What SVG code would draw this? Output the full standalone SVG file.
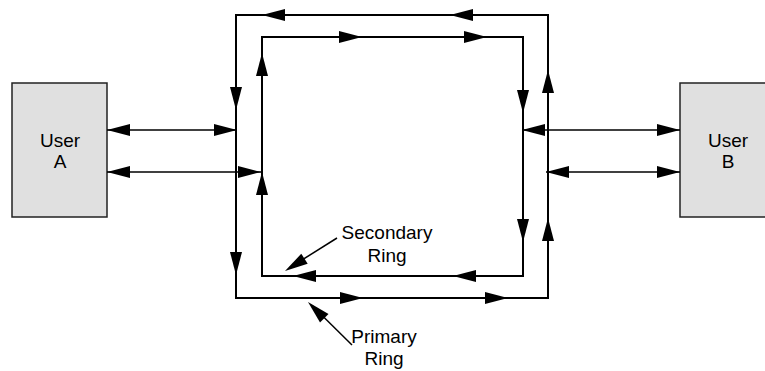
<svg xmlns="http://www.w3.org/2000/svg" xmlns:xlink="http://www.w3.org/1999/xlink" width="765" height="371" viewBox="0 0 765 371">
<style>
.box{fill:#e0e0e0;stroke:#222;stroke-width:1.5}
.lbl{font-family:"Liberation Sans",Arial,sans-serif;font-size:19px;fill:#000;text-anchor:middle}
.ring{fill:none;stroke:#000;stroke-width:2}
.link{fill:none;stroke:#000;stroke-width:1.5}
.ah{fill:#000}
</style>
<defs>
<path id="ah" d="M0,0 L-23,-6 L-23,6 Z"/>
</defs>
<rect x="0" y="0" width="765" height="371" fill="#fff"/>
<g id="userA">
<rect class="box" x="12" y="83" width="95" height="134"/>
<text class="lbl" x="60" y="147">User</text>
<text class="lbl" x="60" y="168">A</text>
</g>
<g id="userB">
<rect class="box" x="680" y="83" width="95" height="134"/>
<text class="lbl" x="728" y="147">User</text>
<text class="lbl" x="728" y="168">B</text>
</g>
<g id="label-secondary">
<text class="lbl" x="387" y="239">Secondary</text>
<text class="lbl" x="387" y="262">Ring</text>
</g>
<g id="label-primary">
<text class="lbl" x="384" y="343">Primary</text>
<text class="lbl" x="384" y="365">Ring</text>
</g>
<g id="connectors">
<!-- primary ring -->
<rect class="ring" x="236" y="15" width="312" height="283"/>
<!-- secondary ring -->
<rect class="ring" x="262" y="37" width="261" height="239"/>
<!-- user links -->
<line class="link" x1="107" y1="130" x2="236" y2="130"/>
<line class="link" x1="107" y1="172" x2="262" y2="172"/>
<line class="link" x1="522" y1="130" x2="680" y2="130"/>
<line class="link" x1="546" y1="172" x2="680" y2="172"/>
<!-- pointer lines -->
<line class="link" x1="337" y1="238" x2="290" y2="267.5"/>
<line class="link" x1="352" y1="345" x2="312" y2="305.5"/>
<g class="ah">
<!-- primary ring arrowheads -->
<use xlink:href="#ah" transform="translate(262,15) rotate(180)"/>
<use xlink:href="#ah" transform="translate(450,15) rotate(180)"/>
<use xlink:href="#ah" transform="translate(236,110) rotate(90)"/>
<use xlink:href="#ah" transform="translate(236,275) rotate(90)"/>
<use xlink:href="#ah" transform="translate(363,298)"/>
<use xlink:href="#ah" transform="translate(508,298)"/>
<use xlink:href="#ah" transform="translate(548,70) rotate(-90)"/>
<use xlink:href="#ah" transform="translate(548,218) rotate(-90)"/>
<!-- secondary ring arrowheads -->
<use xlink:href="#ah" transform="translate(362,37)"/>
<use xlink:href="#ah" transform="translate(487,37)"/>
<use xlink:href="#ah" transform="translate(523,113) rotate(90)"/>
<use xlink:href="#ah" transform="translate(523,242) rotate(90)"/>
<use xlink:href="#ah" transform="translate(293,276) rotate(180)"/>
<use xlink:href="#ah" transform="translate(453,276) rotate(180)"/>
<use xlink:href="#ah" transform="translate(262,53) rotate(-90)"/>
<use xlink:href="#ah" transform="translate(262,172) rotate(-90)"/>
<!-- user link arrowheads -->
<use xlink:href="#ah" transform="translate(107,130) rotate(180)"/>
<use xlink:href="#ah" transform="translate(237,130)"/>
<use xlink:href="#ah" transform="translate(107,172) rotate(180)"/>
<use xlink:href="#ah" transform="translate(261,172)"/>
<use xlink:href="#ah" transform="translate(522,130) rotate(180)"/>
<use xlink:href="#ah" transform="translate(680,130)"/>
<use xlink:href="#ah" transform="translate(546,172) rotate(180)"/>
<use xlink:href="#ah" transform="translate(680,172)"/>
<!-- pointer arrowheads -->
<use xlink:href="#ah" transform="translate(285,271) rotate(147.9)"/>
<use xlink:href="#ah" transform="translate(308,302) rotate(-135)"/>
</g>
</g>
</svg>
